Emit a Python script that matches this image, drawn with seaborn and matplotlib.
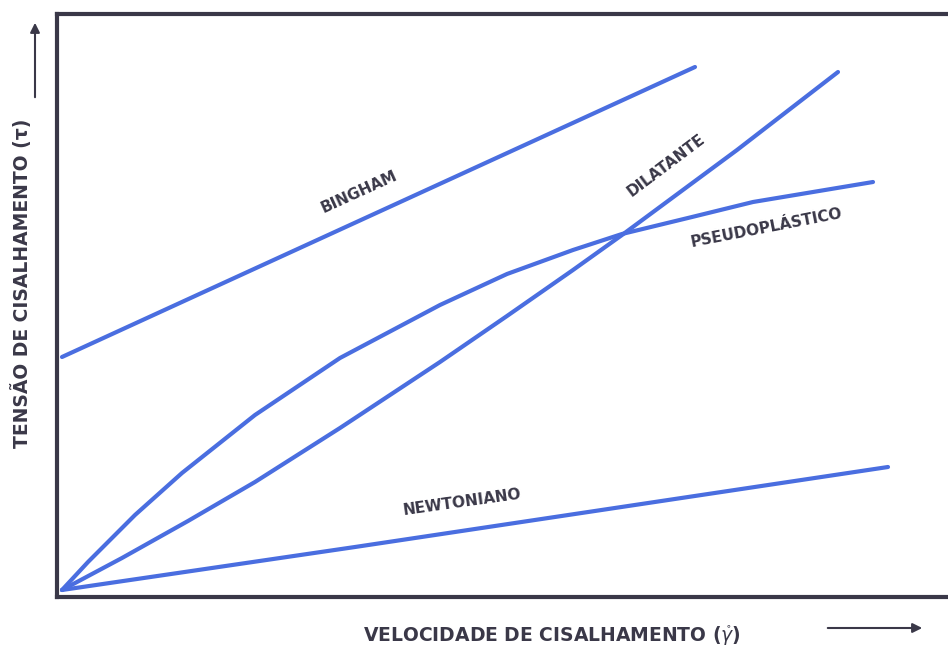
import pandas as pd
import matplotlib.pyplot as plt
from matplotlib.patches import FancyArrowPatch
import seaborn as sns

# curve values (origin at the lower left corner)
bingham_x = [0, 133, 633]
bingham_y = [233, 294, 523]

newtoniano_x = [0, 293, 826]
newtoniano_y = [0, 43, 123]

dilatante_x = [0, 60, 126, 193, 278, 378, 445, 511, 560, 675, 776]
dilatante_y = [0, 32, 69, 108, 162, 228, 274, 320, 355, 440, 518]

pseudo_x = [0, 26, 73, 120, 193, 278, 378, 445, 511, 560, 630, 691, 811]
pseudo_y = [0, 28, 75, 117, 175, 232, 285, 316, 340, 356, 373, 388, 408]

curve_labels = ['BINGHAM', 'DILATANTE', 'PSEUDOPLÁSTICO', 'NEWTONIANO']

rows = []
for name, xs, ys in [('BINGHAM', bingham_x, bingham_y),
                     ('DILATANTE', dilatante_x, dilatante_y),
                     ('PSEUDOPLÁSTICO', pseudo_x, pseudo_y),
                     ('NEWTONIANO', newtoniano_x, newtoniano_y)]:
    for x, y in zip(xs, ys):
        rows.append({'curve': name, 'x': x, 'y': y})
df = pd.DataFrame(rows)

sns.set_style("white")
plt.rcParams['font.family'] = ['DejaVu Sans']

line_color = '#4a6ee0'
ink = '#3a3848'

fig = plt.figure(figsize=(9.48, 6.55), dpi=100)
ax = fig.add_axes([57 / 948, 1 - 597 / 655, 1 - 57 / 948, (597 - 14) / 655])

sns.lineplot(data=df, x='x', y='y', hue='curve', units='curve', estimator=None,
             palette={c: line_color for c in curve_labels}, sort=False,
             linewidth=3, legend=False, ax=ax)
for line in ax.lines:
    line.set_solid_joinstyle('round')
    line.set_solid_capstyle('round')

ax.set_xlim(-5, 886)
ax.set_ylim(-7, 576)
ax.set_xticks([])
ax.set_yticks([])
ax.set_xlabel('')
ax.set_ylabel('')
for side in ['left', 'bottom', 'top']:
    ax.spines[side].set_color(ink)
    ax.spines[side].set_linewidth(3)
ax.spines['right'].set_visible(False)

# curve names
txt = dict(color=ink, fontsize=11, fontweight='bold', ha='center', va='center')
ax.text(297, 398, 'BINGHAM', rotation=24.5, **txt)
ax.text(604, 425, 'DILATANTE', rotation=37, **txt)
ax.text(704, 362, 'PSEUDOPLÁSTICO', rotation=11, **txt)
ax.text(400, 88, 'NEWTONIANO', rotation=8, **txt)

# axis titles with arrows
fig.text(552 / 948, 1 - 636 / 655, r'VELOCIDADE DE CISALHAMENTO ($\mathring{\gamma}$)',
         color=ink, fontsize=13.5, fontweight='bold', ha='center', va='center')
fig.text(22 / 948, 1 - 283 / 655, 'TENSÃO DE CISALHAMENTO (τ)', rotation=90,
         color=ink, fontsize=13.5, fontweight='bold', ha='center', va='center')

arrow = dict(arrowstyle='-|>', color=ink, lw=1.5, mutation_scale=14)
fig.add_artist(FancyArrowPatch((825 / 948, 1 - 628 / 655), (925 / 948, 1 - 628 / 655),
                               transform=fig.transFigure, **arrow))
fig.add_artist(FancyArrowPatch((35 / 948, 1 - 100 / 655), (35 / 948, 1 - 20 / 655),
                               transform=fig.transFigure, **arrow))

fig.savefig('out.png', dpi=100, facecolor='white')
